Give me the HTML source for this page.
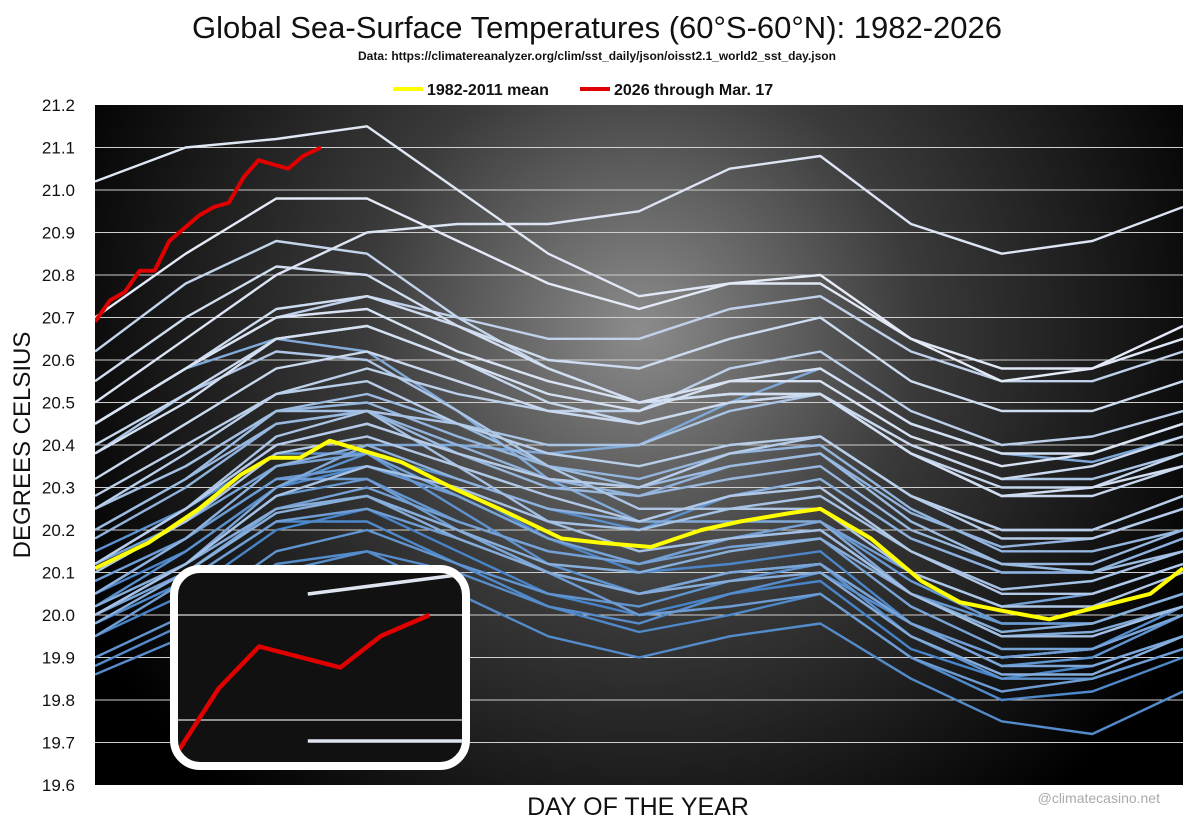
<!DOCTYPE html>
<html><head><meta charset="utf-8"><style>
html,body{margin:0;padding:0;width:1200px;height:832px;overflow:hidden;background:#fff;}
svg{display:block;font-family:"Liberation Sans",sans-serif;}
</style></head><body>
<svg id="chart" width="1200" height="832">
<defs>
<radialGradient id="bg" cx="640" cy="330" r="620" gradientUnits="userSpaceOnUse">
<stop offset="0" stop-color="#8c8c8c"/><stop offset="0.45" stop-color="#3a3a3a"/><stop offset="1" stop-color="#000"/>
</radialGradient>
<clipPath id="plotclip"><rect x="95" y="105" width="1088" height="680"/></clipPath>
<clipPath id="insetclip"><rect x="178" y="573" width="284" height="189" rx="22"/></clipPath>
</defs>
<text x="597" y="38" text-anchor="middle" font-size="31" fill="#111">Global Sea-Surface Temperatures (60°S-60°N): 1982-2026</text>
<text x="597" y="60" text-anchor="middle" font-size="12" fill="#111" font-weight="bold">Data: https://climatereanalyzer.org/clim/sst_daily/json/oisst2.1_world2_sst_day.json</text>
<g>
<line x1="393" y1="89" x2="423" y2="89" stroke="#ffff00" stroke-width="4"/>
<text x="427" y="95" font-size="16" font-weight="bold" fill="#111">1982-2011 mean</text>
<line x1="580" y1="89" x2="610" y2="89" stroke="#e00000" stroke-width="4"/>
<text x="614" y="95" font-size="16" font-weight="bold" fill="#111">2026 through Mar. 17</text>
</g>
<rect x="95" y="105" width="1088" height="680" fill="url(#bg)"/>
<g id="grid"></g>
<g id="yticks"></g>
<g id="lines" clip-path="url(#plotclip)"></g>
<text transform="translate(30,445) rotate(-90)" text-anchor="middle" font-size="24" fill="#111">DEGREES CELSIUS</text>
<text x="638" y="815" text-anchor="middle" font-size="25" fill="#111">DAY OF THE YEAR</text>
<text x="1160" y="803" text-anchor="end" font-size="14" fill="#aaa">@climatecasino.net</text>
<rect x="174" y="569" width="292" height="197" rx="26" fill="#111" stroke="#fff" stroke-width="8"/>
<g id="inset" clip-path="url(#insetclip)"></g>
</svg>
<script>
const yTicks=["19.6","19.7","19.8","19.9","20.0","20.1","20.2","20.3","20.4","20.5","20.6","20.7","20.8","20.9","21.0","21.1","21.2"];
const monthDays=[0,30.5,61,91.5,122,152.5,183,213.5,244,274.5,305,335.5,366];
const meanDays=[0,18,35,49,59,69,79,103,120,136,157,170,187,204,217,234,244,261,278,291,305,321,338,355,366];
const meanVals=[20.11,20.17,20.25,20.33,20.37,20.37,20.41,20.36,20.30,20.25,20.18,20.17,20.16,20.20,20.22,20.24,20.25,20.18,20.08,20.03,20.01,19.99,20.02,20.05,20.11];
const redDays=[0,5,10,15,20,25,30,35,40,45,50,55,60,65,70,76];
const redVals=[20.69,20.74,20.76,20.81,20.81,20.88,20.91,20.94,20.96,20.97,21.03,21.07,21.06,21.05,21.08,21.10];
const years=[1982,1983,1984,1985,1986,1987,1988,1989,1990,1991,1992,1993,1994,1995,1996,1997,1998,1999,2000,2001,2002,2003,2004,2005,2006,2007,2008,2009,2010,2011,2012,2013,2014,2015,2016,2017,2018,2019,2020,2021,2022,2023,2024,2025];
const y1982=[19.95,20.05,20.20,20.25,20.15,20.05,20.00,20.05,20.08,19.92,19.85,19.88,19.95];
const y1983=[20.05,20.15,20.30,20.35,20.30,20.18,20.10,20.12,20.15,19.98,19.90,19.92,20.00];
const y1984=[19.98,20.08,20.22,20.22,20.12,20.02,19.96,20.00,20.05,19.90,19.80,19.82,19.90];
const y1985=[19.88,19.98,20.12,20.15,20.05,19.95,19.90,19.95,19.98,19.85,19.75,19.72,19.82];
const y1986=[19.86,19.95,20.10,20.15,20.10,20.02,19.98,20.05,20.10,19.98,19.90,19.92,20.02];
const y1987=[20.02,20.15,20.30,20.38,20.32,20.25,20.20,20.28,20.32,20.18,20.10,20.10,20.18];
const y1988=[20.15,20.25,20.38,20.38,20.25,20.12,20.05,20.10,20.12,19.95,19.85,19.85,19.92];
const y1989=[19.90,20.00,20.15,20.20,20.12,20.05,20.02,20.08,20.12,19.98,19.88,19.90,20.00];
const y1990=[20.00,20.12,20.28,20.32,20.22,20.15,20.12,20.18,20.20,20.05,19.98,19.98,20.05];
const y1991=[20.05,20.18,20.32,20.35,20.28,20.18,20.12,20.18,20.22,20.08,19.98,19.98,20.05];
const y1992=[20.08,20.18,20.32,20.32,20.20,20.10,20.00,20.02,20.05,19.90,19.82,19.85,19.92];
const y1993=[19.95,20.08,20.22,20.25,20.18,20.10,20.05,20.10,20.12,19.98,19.90,19.92,20.00];
const y1994=[20.00,20.12,20.25,20.30,20.22,20.15,20.12,20.18,20.22,20.10,20.02,20.05,20.12];
const y1995=[20.12,20.22,20.35,20.38,20.28,20.18,20.12,20.16,20.18,20.02,19.92,19.92,20.00];
const y1996=[20.00,20.10,20.25,20.28,20.20,20.10,20.05,20.10,20.12,19.98,19.88,19.88,19.95];
const y1997=[20.00,20.12,20.30,20.40,20.40,20.38,20.40,20.50,20.58,20.45,20.38,20.36,20.42];
const y1998=[20.45,20.58,20.65,20.62,20.48,20.32,20.22,20.22,20.22,20.05,19.95,19.96,20.02];
const y1999=[20.02,20.12,20.25,20.28,20.18,20.10,20.05,20.08,20.10,19.95,19.86,19.86,19.95];
const y2000=[19.98,20.10,20.24,20.28,20.20,20.12,20.10,20.15,20.18,20.05,19.96,19.98,20.05];
const y2001=[20.05,20.18,20.35,20.40,20.32,20.25,20.22,20.28,20.32,20.18,20.10,20.10,20.18];
const y2002=[20.18,20.30,20.45,20.48,20.40,20.32,20.28,20.35,20.38,20.24,20.16,20.18,20.25];
const y2003=[20.25,20.35,20.48,20.50,20.42,20.35,20.32,20.38,20.40,20.25,20.15,20.15,20.20];
const y2004=[20.20,20.32,20.45,20.48,20.38,20.30,20.28,20.32,20.35,20.20,20.12,20.12,20.20];
const y2005=[20.20,20.32,20.48,20.52,20.45,20.35,20.30,20.35,20.38,20.22,20.12,20.10,20.15];
const y2006=[20.12,20.25,20.40,20.45,20.38,20.32,20.30,20.38,20.42,20.28,20.20,20.20,20.28];
const y2007=[20.25,20.35,20.48,20.48,20.35,20.22,20.15,20.18,20.20,20.05,19.95,19.95,20.02];
const y2008=[20.00,20.12,20.28,20.35,20.30,20.22,20.20,20.25,20.28,20.15,20.06,20.08,20.15];
const y2009=[20.12,20.25,20.42,20.48,20.45,20.40,20.40,20.48,20.52,20.40,20.32,20.32,20.38];
const y2010=[20.38,20.52,20.62,20.60,20.48,20.35,20.25,20.25,20.25,20.10,20.02,20.02,20.10];
const y2011=[20.10,20.22,20.38,20.42,20.35,20.28,20.22,20.28,20.30,20.15,20.05,20.05,20.12];
const y2012=[20.12,20.25,20.40,20.45,20.38,20.32,20.30,20.38,20.42,20.28,20.18,20.18,20.25];
const y2013=[20.25,20.38,20.52,20.55,20.45,20.38,20.35,20.40,20.42,20.28,20.20,20.20,20.28];
const y2014=[20.28,20.40,20.52,20.58,20.52,20.48,20.48,20.58,20.62,20.48,20.40,20.42,20.48];
const y2015=[20.45,20.58,20.70,20.75,20.70,20.65,20.65,20.72,20.75,20.62,20.55,20.55,20.62];
const y2016=[20.62,20.78,20.88,20.85,20.70,20.58,20.50,20.52,20.52,20.38,20.30,20.30,20.38];
const y2017=[20.40,20.52,20.65,20.68,20.60,20.50,20.45,20.50,20.52,20.38,20.28,20.28,20.35];
const y2018=[20.32,20.45,20.58,20.62,20.55,20.48,20.45,20.50,20.52,20.40,20.32,20.35,20.42];
const y2019=[20.45,20.58,20.72,20.75,20.68,20.60,20.58,20.65,20.70,20.55,20.48,20.48,20.55];
const y2020=[20.55,20.70,20.82,20.80,20.68,20.58,20.50,20.52,20.52,20.38,20.28,20.30,20.35];
const y2021=[20.38,20.50,20.65,20.68,20.60,20.52,20.48,20.55,20.58,20.45,20.38,20.38,20.45];
const y2022=[20.45,20.58,20.70,20.72,20.62,20.55,20.50,20.55,20.55,20.42,20.35,20.38,20.45];
const y2023=[20.50,20.65,20.80,20.90,20.92,20.92,20.95,21.05,21.08,20.92,20.85,20.88,20.96];
const y2024=[21.02,21.10,21.12,21.15,21.00,20.85,20.75,20.78,20.78,20.65,20.58,20.58,20.65];
const y2025=[20.70,20.85,20.98,20.98,20.88,20.78,20.72,20.78,20.80,20.65,20.55,20.58,20.68];
const yearSeries=[y1982,y1983,y1984,y1985,y1986,y1987,y1988,y1989,y1990,y1991,y1992,y1993,y1994,y1995,y1996,y1997,y1998,y1999,y2000,y2001,y2002,y2003,y2004,y2005,y2006,y2007,y2008,y2009,y2010,y2011,y2012,y2013,y2014,y2015,y2016,y2017,y2018,y2019,y2020,y2021,y2022,y2023,y2024,y2025];

const NS="http://www.w3.org/2000/svg";
const X0=95,X1=1183,Y0=785,Y1=105,TMIN=19.6,TMAX=21.2;
const xs=d=>X0+(d/366)*(X1-X0);
const ys=t=>Y0-(t-TMIN)/(TMAX-TMIN)*(Y0-Y1);
function mk(tag,attrs,parent){const e=document.createElementNS(NS,tag);for(const k in attrs)e.setAttribute(k,attrs[k]);parent.appendChild(e);return e;}
function pts(days,vals,fx,fy,lo,hi){const out=[];days.forEach((d,i)=>{if(lo===undefined||(d>=lo&&d<=hi))out.push(fx(d).toFixed(1)+","+fy(vals[i]).toFixed(1));});return out.join(" ");}

const grid=document.getElementById("grid"),yt=document.getElementById("yticks");
yTicks.forEach(t=>{
  const v=parseFloat(t);
  if(v>TMIN&&v<TMAX){const l=mk("line",{x1:X0,x2:X1,y1:ys(v),y2:ys(v),stroke:"#cfcfcf","stroke-width":1},grid);
  
  }
  const tx=mk("text",{x:75,y:ys(v)+6,"text-anchor":"end","font-size":17,fill:"#111"},yt);
  tx.textContent=t;
  
  
});

const lg=document.getElementById("lines");
yearSeries.forEach((s,i)=>{
  const f=i/(yearSeries.length-1);
  const r=Math.round(72+f*(228-72)),g=Math.round(132+f*(234-132)),b=Math.round(200+f*(246-200));
  const p=mk("polyline",{points:pts(monthDays,s,xs,ys),fill:"none",stroke:`rgb(${r},${g},${b})`,"stroke-width":2.4,"stroke-linejoin":"round"},lg);
  
  
});
const mp=mk("polyline",{points:pts(meanDays,meanVals,xs,ys),fill:"none",stroke:"#ffff00","stroke-width":4,"stroke-linejoin":"round"},lg);


const rp=mk("polyline",{points:pts(redDays,redVals,xs,ys),fill:"none",stroke:"#e00000","stroke-width":4,"stroke-linejoin":"round"},lg);



const ig=document.getElementById("inset");
const IX0=178,IX1=462,IY0=762,IY1=573,DMIN=45,DMAX=80,IT0=20.96,IT1=21.14;
const ixs=d=>IX0+(d-DMIN)/(DMAX-DMIN)*(IX1-IX0);
const iys=t=>IY0-(t-IT0)/(IT1-IT0)*(IY0-IY1);
[21.0,21.1].forEach(v=>{const l=mk("line",{x1:IX0,x2:IX1,y1:iys(v),y2:iys(v),stroke:"#bbb","stroke-width":1.5},ig);
  
  });
[yearSeries[42],yearSeries[43]].forEach((s,i)=>{
  const p=mk("polyline",{points:pts(monthDays,s,ixs,iys,60,92),fill:"none",stroke:"#dfe6f2","stroke-width":3.5},ig);
  
  
});
const ir=mk("polyline",{points:pts(redDays,redVals,ixs,iys,40,80),fill:"none",stroke:"#e00000","stroke-width":4.5,"stroke-linejoin":"round"},ig);


</script>
</body></html>
